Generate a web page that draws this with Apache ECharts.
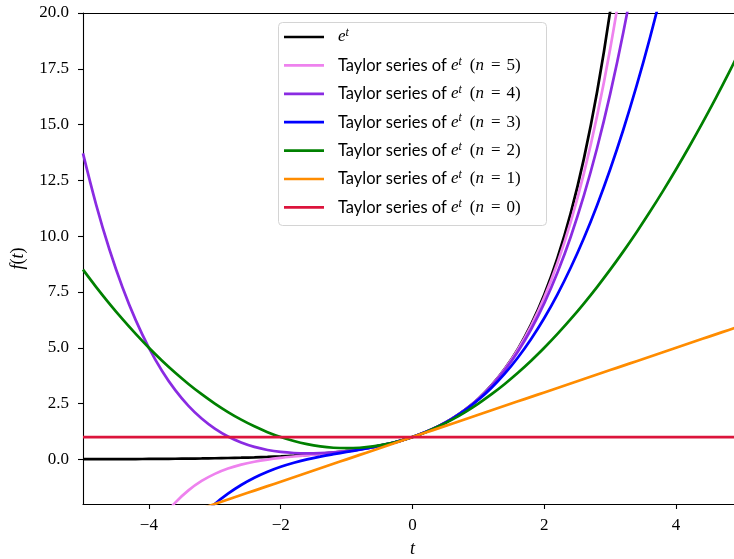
<!DOCTYPE html>
<html>
<head>
<meta charset="utf-8">
<script src="https://cdn.jsdelivr.net/npm/echarts@6/dist/echarts.min.js"></script>
<style>
  html, body { margin: 0; padding: 0; background: #ffffff; }
  #chart { width: 734px; height: 559px; }
</style>
</head>
<body>
<div id="chart"></div>
<script>
// Sample points t, step 0.2 from -5 to 5
const tValues = [-5.0,-4.8,-4.6,-4.4,-4.2,-4.0,-3.8,-3.6,-3.4,-3.2,-3.0,-2.8,-2.6,-2.4,-2.2,-2.0,-1.8,-1.6,-1.4,-1.2,-1.0,-0.8,-0.6,-0.4,-0.2,0,
  0.2,0.4,0.6,0.8,1.0,1.2,1.4,1.6,1.8,2.0,2.2,2.4,2.6,2.8,3.0,3.2,3.4,3.6,3.8,4.0,4.2,4.4,4.6,4.8,5.0];

// e^t
const expValues = [0.0067,0.0082,0.0101,0.0123,0.0150,0.0183,0.0224,0.0273,0.0334,0.0408,0.0498,0.0608,0.0743,0.0907,0.1108,0.1353,0.1653,0.2019,0.2466,0.3012,0.3679,0.4493,0.5488,0.6703,0.8187,1,
  1.2214,1.4918,1.8221,2.2255,2.7183,3.3201,4.0552,4.9530,6.0496,7.3891,9.0250,11.0232,13.4637,16.4446,20.0855,24.5325,29.9641,36.5982,44.7012,54.5982,66.6863,81.4509,99.4843,121.5104,148.4132];

// Taylor polynomials of e^t around 0, degrees 5 down to 0
const taylor5 = [-12.333,-9.827,-7.750,-6.043,-4.654,-3.533,-2.640,-1.936,-1.389,-0.968,-0.650,-0.412,-0.235,-0.105,-0.008,0.067,0.128,0.183,0.238,0.298,0.367,0.449,0.549,0.670,0.819,1,
  1.221,1.492,1.822,2.225,2.717,3.315,4.042,4.923,5.987,7.267,8.800,10.630,12.804,15.374,18.400,21.947,26.085,30.893,36.456,42.867,50.224,58.637,68.222,79.104,91.417];
const taylor4 = [13.708,11.406,9.413,7.700,6.237,5.000,3.963,3.102,2.397,1.828,1.375,1.022,0.755,0.558,0.421,0.333,0.285,0.270,0.283,0.318,0.375,0.452,0.549,0.670,0.819,1,
  1.221,1.492,1.821,2.222,2.708,3.294,3.997,4.836,5.829,7.000,8.371,9.966,11.813,13.940,16.375,19.150,22.299,25.854,29.853,34.333,39.333,44.894,51.059,57.870,65.375];
const taylor3 = [-12.333,-10.712,-9.243,-7.917,-6.728,-5.667,-4.725,-3.896,-3.171,-2.541,-2.000,-1.539,-1.149,-0.824,-0.555,-0.333,-0.152,-0.003,0.123,0.232,0.333,0.435,0.544,0.669,0.819,1,
  1.221,1.491,1.816,2.205,2.667,3.208,3.837,4.563,5.392,6.333,7.395,8.584,9.909,11.379,13.000,14.781,16.731,18.856,21.165,23.667,26.368,29.277,32.403,35.752,39.333];
const taylor2 = [8.500,7.720,6.980,6.280,5.620,5.000,4.420,3.880,3.380,2.920,2.500,2.120,1.780,1.480,1.220,1.000,0.820,0.680,0.580,0.520,0.500,0.520,0.580,0.680,0.820,1,
  1.220,1.480,1.780,2.120,2.500,2.920,3.380,3.880,4.420,5.000,5.620,6.280,6.980,7.720,8.500,9.320,10.180,11.080,12.020,13.000,14.020,15.080,16.180,17.320,18.500];
const taylor1 = [-4.0,-3.8,-3.6,-3.4,-3.2,-3.0,-2.8,-2.6,-2.4,-2.2,-2.0,-1.8,-1.6,-1.4,-1.2,-1.0,-0.8,-0.6,-0.4,-0.2,0,0.2,0.4,0.6,0.8,1,
  1.2,1.4,1.6,1.8,2.0,2.2,2.4,2.6,2.8,3.0,3.2,3.4,3.6,3.8,4.0,4.2,4.4,4.6,4.8,5.0,5.2,5.4,5.6,5.8,6.0];
const taylor0 = [1,1,1,1,1,1,1,1,1,1,1,1,1,1,1,1,1,1,1,1,1,1,1,1,1,1,
  1,1,1,1,1,1,1,1,1,1,1,1,1,1,1,1,1,1,1,1,1,1,1,1,1];

// Tick positions
const xTicks = [-4, -2, 0, 2, 4];
const yTicks = [0, 2.5, 5, 7.5, 10, 12.5, 15, 17.5, 20];

// Curves in drawing order (later ones on top)
const curves = [
  { name: 'exp', degree: null, color: '#000000', values: expValues },
  { name: 'T5',  degree: 5,    color: '#ee82ee', values: taylor5 },
  { name: 'T4',  degree: 4,    color: '#8a2be2', values: taylor4 },
  { name: 'T3',  degree: 3,    color: '#0000ff', values: taylor3 },
  { name: 'T2',  degree: 2,    color: '#008000', values: taylor2 },
  { name: 'T1',  degree: 1,    color: '#ff8c00', values: taylor1 },
  { name: 'T0',  degree: 0,    color: '#dc143c', values: taylor0 }
];

const SERIF = 'Liberation Serif';
const SANS = 'Lato';

function legendLabel(name) {
  const c = curves.find(k => k.name === name);
  if (c.degree === null) return '{mf|e}{sup|t}';
  return '{s|Taylor series of }{m|e}{sup|t}{lp|(}{m|n}{eq|=}{r|' + c.degree + ')}';
}

const chart = echarts.init(document.getElementById('chart'), null, { renderer: 'canvas' });

const spine = { color: '#000000', width: 1.1 };

const option = {
  animation: false,
  backgroundColor: '#ffffff',
  grid: {
    left: 83, right: -8, top: 13, bottom: 55,
    outerBoundsMode: 'none'
  },
  xAxis: [{
    type: 'value', min: -5, max: 5,
    axisLine: { onZero: false, lineStyle: spine },
    axisTick: { customValues: xTicks, length: 5, lineStyle: spine },
    axisLabel: {
      customValues: xTicks, margin: 13,
      fontFamily: SERIF, fontSize: 17, color: '#000000',
      formatter: v => String(v).replace('-', '\u2212')
    },
    splitLine: { show: false },
    name: 't', nameLocation: 'middle', nameGap: 36,
    nameTextStyle: { fontFamily: SERIF, fontStyle: 'italic', fontSize: 18, color: '#000000' }
  }, {
    // top spine
    type: 'value', position: 'top', min: -5, max: 5,
    axisLine: { show: true, onZero: false, lineStyle: spine },
    axisTick: { show: false }, axisLabel: { show: false }, splitLine: { show: false }
  }],
  yAxis: {
    type: 'value', min: -2, max: 20,
    axisLine: { onZero: false, lineStyle: spine },
    axisTick: { customValues: yTicks, length: 5, lineStyle: spine },
    axisLabel: {
      customValues: yTicks, margin: 14,
      fontFamily: SERIF, fontSize: 17, color: '#000000',
      formatter: v => v.toFixed(1).replace('-', '\u2212')
    },
    splitLine: { show: false },
    name: '{i|f}{u|(}{i|t}{u|)}', nameLocation: 'middle', nameGap: 56, nameRotate: 90,
    nameTextStyle: {
      color: '#000000',
      rich: {
        i: { fontFamily: SERIF, fontStyle: 'italic', fontSize: 18, color: '#000000' },
        u: { fontFamily: SERIF, fontSize: 18, color: '#000000' }
      }
    }
  },
  legend: {
    orient: 'vertical',
    left: 284, top: 27,
    padding: 0,
    icon: 'rect',
    itemWidth: 40, itemHeight: 2.7, itemGap: 9.9,
    data: curves.map(c => c.name),
    formatter: legendLabel,
    textStyle: {
      color: '#000000',
      rich: {
        s:   { fontFamily: SANS, fontSize: 16.5, lineHeight: 20, color: '#000000', padding: [0, 0, 0, 9] },
        m:   { fontFamily: SERIF, fontStyle: 'italic', fontSize: 17, lineHeight: 20, color: '#000000' },
        mf:  { fontFamily: SERIF, fontStyle: 'italic', fontSize: 17, lineHeight: 20, color: '#000000', padding: [0, 0, 0, 9] },
        sup: { fontFamily: SERIF, fontStyle: 'italic', fontSize: 12, lineHeight: 10, verticalAlign: 'top', color: '#000000' },
        lp:  { fontFamily: SERIF, fontSize: 17, lineHeight: 20, color: '#000000', padding: [0, 0, 0, 8] },
        eq:  { fontFamily: SERIF, fontSize: 17, lineHeight: 20, color: '#000000', padding: [0, 6, 0, 7] },
        r:   { fontFamily: SERIF, fontSize: 17, lineHeight: 20, color: '#000000' }
      }
    },
    z: 10
  },
  graphic: [{
    type: 'rect', z: 5,
    shape: { x: 278.5, y: 22.5, width: 268, height: 203, r: 4 },
    style: { fill: 'rgba(255,255,255,0.8)', stroke: '#d4d4d4', lineWidth: 1 }
  }],
  series: curves.map(c => ({
    name: c.name,
    type: 'line',
    xAxisIndex: 0,
    data: tValues.map((t, i) => [t, c.values[i]]),
    smooth: 0.4,
    symbol: 'none',
    clip: true,
    lineStyle: { color: c.color, width: 2.7 },
    itemStyle: { color: c.color }
  }))
};

chart.setOption(option);
</script>
</body>
</html>
